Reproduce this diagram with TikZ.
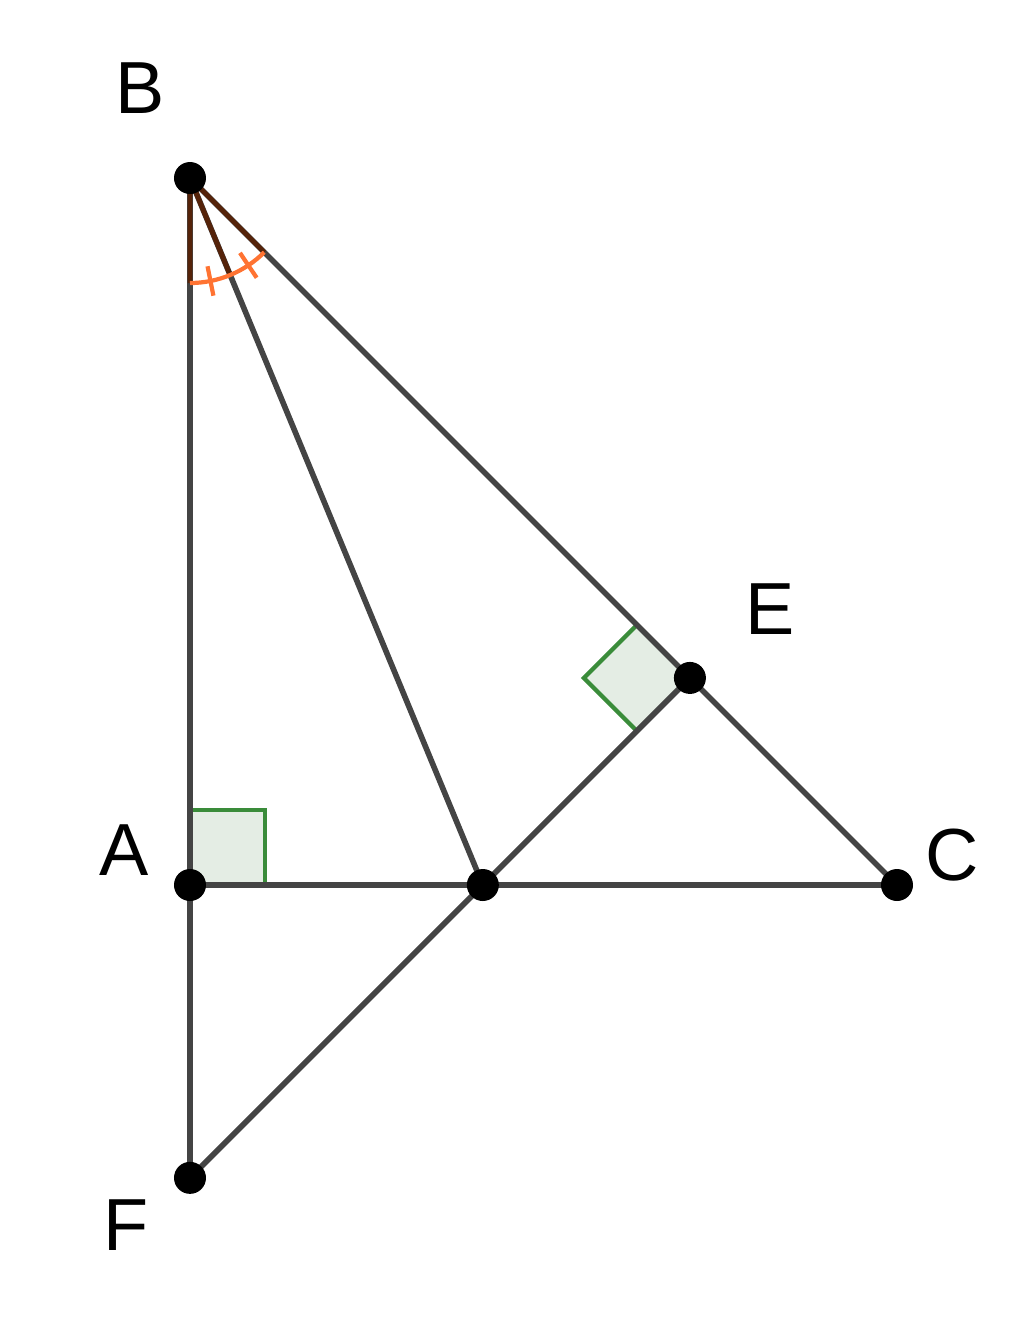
\documentclass[tikz,border=0pt]{standalone}
\usepackage{fontspec}
\setmainfont{Liberation Sans}
\usetikzlibrary{calc,
                positioning}
\definecolor{segcol}{RGB}{68,68,68}
\definecolor{rightcol}{RGB}{58,140,58}
\definecolor{rightfill}{RGB}{228,237,228}
\definecolor{sectorcol}{RGB}{85,35,10}
\definecolor{arccol}{RGB}{255,115,50}
\tikzset{seg/.style =
   {draw=segcol,
    line width=1.6pt}}
\tikzset{pt/.style =
   {circle,
    fill=black,
    inner sep=0pt,
    minimum size=0.32cm}}
\tikzset{lbl/.style =
   {font=\fontsize{21}{25}\selectfont,
    inner sep=0pt}}
\tikzset{rightangle/.style = {draw=rightcol, fill=rightfill, line width=1.2pt}}
\tikzset{sector/.style = {draw=sectorcol, line width=1.4pt}}
\tikzset{anglearc/.style = {draw=arccol, line width=1.2pt}}

\begin{document}
\begin{tikzpicture}

        \useasboundingbox (0,0) rectangle (10.24,-13.38);

        \coordinate (A) at (1.9,-8.85);
        \coordinate (B) at (1.9,-1.78);
        \coordinate (C) at (8.97,-8.85);
        \coordinate (D) at ($(A)!0.41421!(C)$);
        \coordinate (E) at ($(B)!(D)!(C)$);
        \coordinate (F) at ($(E)!2.41421!(D)$);

        \coordinate (Eb) at ($(E)!0.75cm!(B)$);
        \coordinate (Ed) at ($(E)!0.75cm!(D)$);
        \coordinate (Ec) at ($(Eb)+(Ed)-(E)$);

        \draw [rightangle] (A) rectangle ++(0.75,0.75);
        \draw [rightangle] (E) -- (Eb) -- (Ec) -- (Ed) -- cycle;

        \draw [seg] (B) -- (F);
        \draw [seg] (A) -- (C);
        \draw [seg] (B) -- (C);
        \draw [seg] (B) -- (D);
        \draw [seg] (E) -- (F);

        \draw [sector] ($(B)!1.05cm!(A)$) -- (B) -- ($(B)!1.05cm!(D)$);
        \draw [sector] (B) -- ($(B)!1.05cm!(C)$);
        \draw [anglearc] ($(B)+(-90:1.05)$) arc [start angle=-90, end angle=-45, radius=1.05];
        \draw [anglearc] ($(B)+(-78.75:0.9)$) -- ($(B)+(-78.75:1.2)$);
        \draw [anglearc] ($(B)+(-56.25:0.9)$) -- ($(B)+(-56.25:1.2)$);

        \node [pt] (Bdot) at (B) {};
        \node [pt] (Adot) at (A) {};
        \node [pt] (Cdot) at (C) {};
        \node [pt] (Ddot) at (D) {};
        \node [pt] (Edot) at (E) {};
        \node [pt] (Fdot) at (F) {};

        \node [lbl,
               above left = 0.52cm and 0.13cm of Bdot] (Blbl) {B};

        \node [lbl,
               left = 0.24cm of Adot,
               yshift = 0.35cm] (Albl) {A};

        \node [lbl,
               right = 0.11cm of Cdot,
               yshift = 0.30cm] (Clbl) {C};

        \node [lbl,
               above right = 0.31cm and 0.43cm of Edot] (Elbl) {E};

        \node [lbl,
               below left = 0.09cm and 0.29cm of Fdot] (Flbl) {F};

    \end{tikzpicture}
\end{document}
